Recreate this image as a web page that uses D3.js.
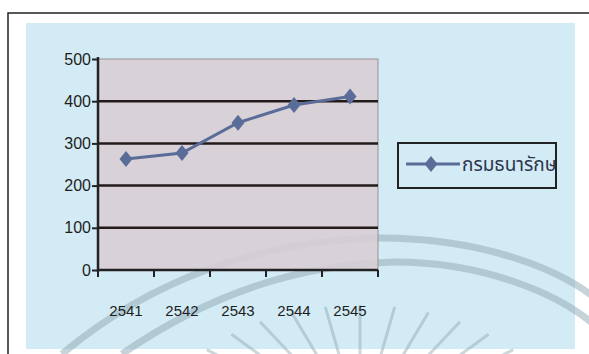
<!DOCTYPE html>
<html lang="th">
<head>
<meta charset="UTF-8">
<title>chart</title>
<style>
body{margin:0;background:#fff;}
svg{display:block;}
.tick text{font-family:"Liberation Sans",Arial,sans-serif;font-size:16px;fill:#1e1e1e;}
</style>
</head>
<body>
<script src="https://cdn.jsdelivr.net/npm/d3@7"></script>
<script>
var years=['2541','2542','2543','2544','2545']
var values=[263,277,349,391,411]
var yTicks=[0,100,200,300,400,500]
var seriesName='กรมธนารักษ'

var width=589,height=354
var plot={left:98,top:59,right:378,bottom:270}

var svg=d3.select('body').append('svg').attr('width',width).attr('height',height)

// outer frame and blue panel
svg.append('rect').attr('x',8).attr('y',13).attr('width',600).attr('height',360)
    .attr('fill','#fff').attr('stroke','#222').attr('stroke-width',1.5)
svg.append('rect').attr('x',26).attr('y',23).attr('width',549).attr('height',326).attr('fill','#d3ebf4')

// faint watermark from the scanned page
var wm=svg.append('g').attr('fill','none').attr('stroke','#8ea7b1').attr('stroke-opacity',0.5)
wm.append('path').attr('stroke-width',7).attr('d','M62,354 C150,280 260,240 380,238 C480,238 560,268 600,302')
wm.append('path').attr('stroke-width',7).attr('d','M122,354 C200,300 290,264 395,262 C480,262 560,292 600,330')
var cx=360,cy=430
d3.range(-60,61,10).forEach(function(a){
    var r=a*Math.PI/180
    wm.append('line').attr('stroke-width',3).attr('stroke-opacity',0.45)
      .attr('x1',cx+Math.sin(r)*200).attr('y1',cy-Math.cos(r)*125)
      .attr('x2',cx+Math.sin(r)*110).attr('y2',cy-Math.cos(r)*70)
})

var x=d3.scaleBand().domain(years).range([plot.left,plot.right])
var y=d3.scaleLinear().domain([0,500]).range([plot.bottom,plot.top])

svg.append('rect').attr('x',plot.left).attr('y',plot.top)
    .attr('width',plot.right-plot.left).attr('height',plot.bottom-plot.top)
    .attr('fill','#d8ced4').attr('fill-opacity',0.9).attr('stroke','#a08f98').attr('stroke-width',1)

// gridlines
svg.append('g').selectAll('line').data(yTicks.filter(function(d){return d>0&&d<500})).enter().append('line')
    .attr('x1',plot.left).attr('x2',plot.right)
    .attr('y1',function(d){return y(d)}).attr('y2',function(d){return y(d)})
    .attr('stroke','#231a1a').attr('stroke-width',2.5)

var yAxis=d3.axisLeft(y).tickValues(yTicks).tickSize(6).tickPadding(1)
var gy=svg.append('g').attr('transform','translate('+plot.left+',0)').call(yAxis)
gy.select('.domain').remove()
gy.selectAll('.tick line').attr('stroke','#222').attr('stroke-width',2)
gy.append('line').attr('x1',0).attr('x2',0).attr('y1',plot.top-2).attr('y2',plot.bottom+2)
    .attr('stroke','#222').attr('stroke-width',2.5)

// x axis with category boundary ticks
var edges=years.map(function(d){return x(d)}).concat([plot.right])
var gx=svg.append('g')
gx.append('line').attr('x1',plot.left).attr('x2',plot.right).attr('y1',plot.bottom).attr('y2',plot.bottom)
    .attr('stroke','#222').attr('stroke-width',2.5)
gx.selectAll('.edge').data(edges).enter().append('line')
    .attr('x1',function(d){return d}).attr('x2',function(d){return d})
    .attr('y1',plot.bottom).attr('y2',plot.bottom+7)
    .attr('stroke','#222').attr('stroke-width',2)
gx.selectAll('text').data(years).enter().append('text')
    .attr('x',function(d){return x(d)+x.bandwidth()/2}).attr('y',316)
    .attr('text-anchor','middle')
    .style('font-family','"Liberation Sans",Arial,sans-serif').style('font-size','15px').attr('fill','#1e1e1e')
    .text(function(d){return d})

var color='#5a6d98'
var line=d3.line().x(function(d,i){return x(years[i])+x.bandwidth()/2}).y(function(d){return y(d)})
svg.append('path').attr('d',line(values)).attr('fill','none').attr('stroke',color).attr('stroke-width',3)

function diamond(g,cx,cy){
    g.append('path').attr('d','M'+cx+','+(cy-8)+'L'+(cx+6.5)+','+cy+'L'+cx+','+(cy+8)+'L'+(cx-6.5)+','+cy+'Z')
        .attr('fill',color)
}
values.forEach(function(d,i){diamond(svg,x(years[i])+x.bandwidth()/2,y(d))})

// legend
var lg=svg.append('g')
lg.append('rect').attr('x',398).attr('y',143).attr('width',158).attr('height',45)
    .attr('fill','none').attr('stroke','#222').attr('stroke-width',2)
lg.append('line').attr('x1',406).attr('x2',460).attr('y1',164).attr('y2',164).attr('stroke',color).attr('stroke-width',3)
diamond(lg,431,164)
lg.append('text').attr('x',462).attr('y',171)
    .style('font-family','"Noto Sans Thai","Noto Sans","DejaVu Sans",sans-serif').style('font-size','19px')
    .attr('fill','#2c3550').text(seriesName)
</script>
</body>
</html>
